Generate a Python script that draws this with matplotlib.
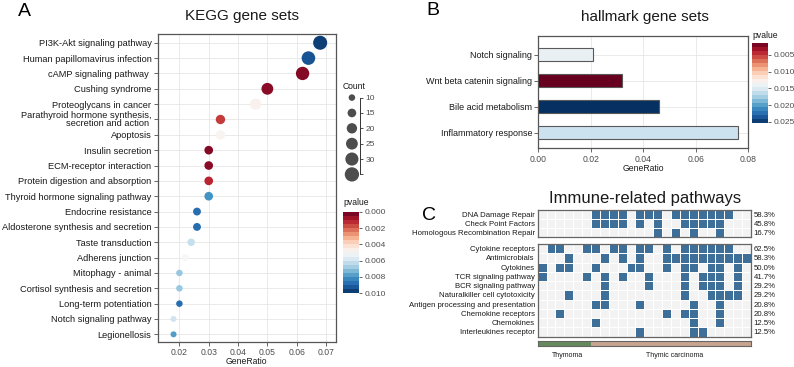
import numpy as np
import matplotlib
matplotlib.use("Agg")
import matplotlib.pyplot as plt
from matplotlib.colors import Normalize, ListedColormap
from matplotlib.cm import ScalarMappable

plt.rcParams["font.family"] = ["Liberation Sans", "DejaVu Sans"]

# ---------------- data ----------------
# A: KEGG gene sets (top to bottom)
kegg_terms = [
    "PI3K-Akt signaling pathway", "Human papillomavirus infection",
    "cAMP signaling pathway ", "Cushing syndrome", "Proteoglycans in cancer",
    "Parathyroid hormone synthesis,\nsecretion and action ", "Apoptosis",
    "Insulin secretion", "ECM-receptor interaction",
    "Protein digestion and absorption", "Thyroid hormone signaling pathway",
    "Endocrine resistance", "Aldosterone synthesis and secretion",
    "Taste transduction", "Adherens junction", "Mitophagy - animal",
    "Cortisol synthesis and secretion", "Long-term potentiation",
    "Notch signaling pathway", "Legionellosis",
]
kegg_ratio = [0.068, 0.064, 0.062, 0.050, 0.046, 0.034, 0.034, 0.030, 0.030, 0.030,
              0.030, 0.026, 0.026, 0.024, 0.022, 0.020, 0.020, 0.020, 0.018, 0.018]
kegg_count = [34, 32, 31, 25, 23, 17, 17, 15, 15, 15, 15, 13, 13, 12, 11, 10, 10, 10, 9, 9]
kegg_p = [0.0097, 0.0093, 0.0004, 0.0005, 0.0048, 0.0015, 0.0049, 0.0004, 0.0005, 0.0012,
          0.0080, 0.0088, 0.0088, 0.0062, 0.0050, 0.0069, 0.0069, 0.0088, 0.0060, 0.0078]
count_breaks = [10, 15, 20, 25, 30, 35]

# B: hallmark gene sets (top to bottom)
hall_terms = ["Notch signaling", "Wnt beta catenin signaling",
              "Bile acid metabolism", "Inflammatory response"]
hall_ratio = [0.021, 0.032, 0.046, 0.076]
hall_p = [0.0143, 0.0015, 0.0253, 0.0160]

# C: immune-related pathways, 24 samples (6 thymoma + 18 thymic carcinoma)
n_samples = 24
groups = ["Thymoma"] * 6 + ["Thymic carcinoma"] * 18
repair_rows = ["DNA Damage Repair", "Check Point Factors", "Homologous Recombination Repair"]
repair_hits = [
    [6, 7, 8, 9, 11, 12, 13, 15, 16, 17, 18, 19, 20, 21],
    [6, 7, 8, 9, 11, 13, 16, 17, 18, 19, 20],
    [13, 15, 17, 20],
]
immune_rows = ["Cytokine receptors", "Antimicrobials", "Cytokines", "TCR signaling pathway",
               "BCR signaling pathway", "Naturalkiller cell cytotoxicity",
               "Antigen processing and presentation", "Chemokine receptors",
               "Chemokines", "Interleukines receptor"]
immune_hits = [
    [1, 2, 5, 6, 8, 9, 11, 12, 14, 16, 17, 18, 19, 20, 21],
    [3, 7, 9, 11, 14, 15, 16, 17, 18, 19, 20, 21, 22, 23],
    [0, 2, 3, 6, 10, 11, 14, 16, 17, 19, 20, 22],
    [0, 5, 7, 9, 12, 16, 18, 19, 20, 22],
    [7, 12, 16, 18, 19, 20, 22],
    [3, 7, 16, 19, 20, 21, 22],
    [6, 7, 11, 17, 20],
    [2, 14, 16, 17, 20],
    [6, 17, 20],
    [11, 17, 18],
]

# ---------------- layout helpers ----------------
W, H = 794, 367
fig = plt.figure(figsize=(W / 100, H / 100), dpi=100)


def px_axes(l, t, r, b):
    return fig.add_axes([l / W, 1 - b / H, (r - l) / W, (b - t) / H])


def px_text(x, y, s, **kw):
    fig.text(x / W, 1 - y / H, s, **kw)


def size_of(c):
    return 3.35 * (np.asarray(c) - 3.4)


spine_col = "#555555"
grid_col = "#e6e6e6"
tick_col = "#4d4d4d"
cmap = plt.get_cmap("RdBu")

# ---------------- A ----------------
axA = px_axes(157.7, 33.7, 335.7, 341.7)
normA = Normalize(0, 0.010)
yA = np.arange(len(kegg_terms))
axA.scatter(kegg_ratio, yA, s=size_of(kegg_count), c=kegg_p, cmap=cmap, norm=normA,
            linewidths=0, zorder=3)
axA.set_xlim(0.0126, 0.0733)
axA.set_ylim(len(kegg_terms) - 1 + 0.48, -0.59)
axA.set_yticks(yA)
axA.set_yticklabels(kegg_terms, fontsize=6.7, color="#1a1a1a", linespacing=0.8)
axA.set_xticks([0.02, 0.03, 0.04, 0.05, 0.06, 0.07])
axA.set_xticklabels(["0.02", "0.03", "0.04", "0.05", "0.06", "0.07"], fontsize=6.2, color=tick_col)
axA.grid(True, color=grid_col, lw=0.6, zorder=0)
axA.set_axisbelow(True)
axA.tick_params(length=3, width=0.6, color=tick_col, pad=1.5)
for s in axA.spines.values():
    s.set_color(spine_col)
    s.set_linewidth(0.9)
px_text(246.7, 361.5, "GeneRatio", fontsize=6.2, ha="center", va="center", color="#1a1a1a")

# size legend
axS = px_axes(343, 93.9, 360, 178.1)
axS.scatter([0] * len(count_breaks), count_breaks, s=size_of(count_breaks), color="#4d4d4d",
            linewidths=0, clip_on=False)
axS.set_xlim(-1.1, 1)
axS.set_ylim(36.2, 8.8)
for k in ["left", "top", "bottom"]:
    axS.spines[k].set_visible(False)
axS.spines["right"].set_bounds(10, 35)
axS.spines["right"].set_color("#333333")
axS.spines["right"].set_linewidth(0.7)
axS.set_xticks([])
axS.yaxis.tick_right()
axS.set_yticks(count_breaks)
axS.set_yticklabels(["10", "15", "20", "25", "30", ""], fontsize=6, color=tick_col)
axS.tick_params(axis="y", length=2.5, width=0.6, color="#333333", pad=1.5)
axS.patch.set_alpha(0)
px_text(343, 86.5, "Count", fontsize=6.2, va="center", ha="left", color="#1a1a1a")

# colorbar A
caxA = px_axes(343.3, 211.7, 359.3, 293.3)
cbA = fig.colorbar(ScalarMappable(norm=normA, cmap=cmap), cax=caxA,
                   boundaries=np.linspace(0, 0.010, 21))
caxA.invert_yaxis()
cbA.set_ticks([0, 0.002, 0.004, 0.006, 0.008, 0.010])
cbA.set_ticklabels(["0.000", "0.002", "0.004", "0.006", "0.008", "0.010"])
caxA.tick_params(labelsize=6, colors=tick_col, length=2.5, width=0.6, pad=1)
cbA.outline.set_visible(False)
px_text(343, 203, "pvalue", fontsize=6.2, va="center", ha="left", color="#1a1a1a")

# ---------------- B ----------------
axB = px_axes(538.3, 36, 748.3, 148.3)
normB = Normalize(0.0015, 0.0253)
yB = np.arange(len(hall_terms))
axB.barh(yB, hall_ratio, height=0.5, color=cmap(normB(hall_p)), edgecolor="#595959",
         linewidth=0.8, zorder=3)
axB.set_xlim(0, 0.08)
axB.set_ylim(len(hall_terms) - 1 + 0.6, -0.73)
axB.set_yticks(yB)
axB.set_yticklabels(hall_terms, fontsize=6.5, color="#1a1a1a")
axB.set_xticks([0, 0.02, 0.04, 0.06, 0.08])
axB.set_xticklabels(["0.00", "0.02", "0.04", "0.06", "0.08"], fontsize=6.2, color=tick_col)
axB.grid(True, color=grid_col, lw=0.6, zorder=0)
axB.set_axisbelow(True)
axB.tick_params(length=3, width=0.6, color=tick_col, pad=1.5)
for s in axB.spines.values():
    s.set_color(spine_col)
    s.set_linewidth(0.9)
px_text(643.3, 168.5, "GeneRatio", fontsize=6.2, ha="center", va="center", color="#1a1a1a")

caxB = px_axes(752.3, 43.3, 768.3, 122.7)
cbB = fig.colorbar(ScalarMappable(norm=normB, cmap=cmap), cax=caxB,
                   boundaries=np.linspace(0.0015, 0.0253, 21))
caxB.invert_yaxis()
cbB.set_ticks([0.005, 0.010, 0.015, 0.020, 0.025])
cbB.set_ticklabels(["0.005", "0.010", "0.015", "0.020", "0.025"])
caxB.tick_params(labelsize=6, colors=tick_col, length=2.5, width=0.6, pad=1)
cbB.outline.set_visible(False)
px_text(752, 35, "pvalue", fontsize=6.2, va="center", ha="left", color="#1a1a1a")

# ---------------- C ----------------
heat_cmap = ListedColormap(["#f3f3f3", "#3d6f98"])


def draw_block(ax, rows, hits):
    mat = np.zeros((len(rows), n_samples))
    for i, cols in enumerate(hits):
        mat[i, cols] = 1
    ax.pcolormesh(np.arange(n_samples + 1), np.arange(len(rows) + 1), mat, cmap=heat_cmap,
                  vmin=0, vmax=1, edgecolors="white", linewidth=0.6)
    ax.set_xlim(0, n_samples)
    ax.set_ylim(len(rows), 0)
    ax.set_xticks([])
    ax.set_yticks(np.arange(len(rows)) + 0.5)
    ax.set_yticklabels(rows, fontsize=5.6, color="#1a1a1a")
    ax.tick_params(axis="y", length=0, pad=2)
    for s in ax.spines.values():
        s.set_color("#666666")
        s.set_linewidth(0.9)
    ax2 = ax.twinx()
    ax2.set_ylim(len(rows), 0)
    ax2.set_yticks(np.arange(len(rows)) + 0.5)
    ax2.set_yticklabels([f"{100 * len(c) / n_samples:.1f}%" for c in hits],
                        fontsize=5.6, color="#1a1a1a")
    ax2.tick_params(axis="y", length=0, pad=2)
    for s in ax2.spines.values():
        s.set_visible(False)


axC1 = px_axes(537.7, 209.7, 751, 237.3)
draw_block(axC1, repair_rows, repair_hits)
axC2 = px_axes(537.7, 244, 751, 336.5)
draw_block(axC2, immune_rows, immune_hits)

# group annotation bar
group_names = ["Thymoma", "Thymic carcinoma"]
group_colors = ["#66895b", "#c8a38e"]
axG = px_axes(537.7, 340.5, 751, 345.5)
gcode = np.array([[group_names.index(g) for g in groups]])
axG.pcolormesh(np.arange(n_samples + 1), [0, 1], gcode, cmap=ListedColormap(group_colors),
               vmin=0, vmax=1)
axG.set_xlim(0, n_samples)
axG.set_ylim(0, 1)
axG.set_xticks([])
axG.set_yticks([])
for s in axG.spines.values():
    s.set_color("#666666")
    s.set_linewidth(0.8)
for name in group_names:
    idx = [i for i, g in enumerate(groups) if g == name]
    axG.text((idx[0] + idx[-1] + 1) / 2 + 0.4, -1.3, name, ha="center", va="top",
             fontsize=5, color="#1a1a1a")

# ---------------- titles and panel letters ----------------
px_text(242, 16, "KEGG gene sets", fontsize=11, ha="center", va="center", color="#1a1a1a")
px_text(644.5, 16.5, "hallmark gene sets", fontsize=11, ha="center", va="center", color="#1a1a1a")
px_text(645, 199, "Immune-related pathways", fontsize=12, ha="center", va="center", color="#1a1a1a")
px_text(18, 11, "A", fontsize=14, ha="left", va="center")
px_text(426, 10.5, "B", fontsize=14, ha="left", va="center")
px_text(422, 216, "C", fontsize=14, ha="left", va="center")

fig.savefig("out.png", dpi=100)
